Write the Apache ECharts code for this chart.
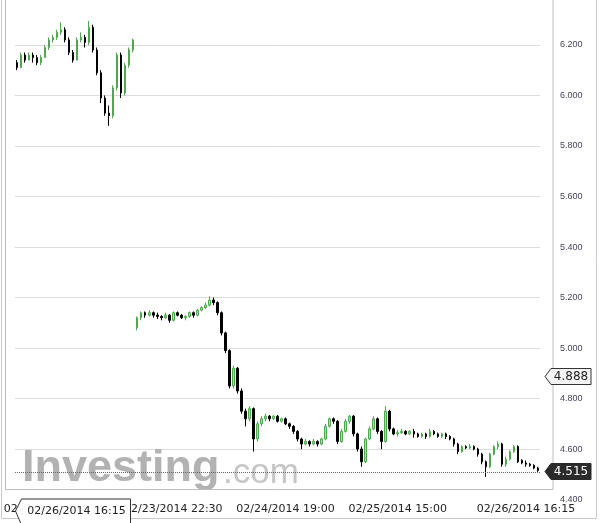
<!DOCTYPE html>
<html><head><meta charset="utf-8">
<script src="https://cdn.jsdelivr.net/npm/echarts@6/dist/echarts.min.js"></script>
<style>html,body{margin:0;padding:0;background:#fff}#c{width:601px;height:523px}</style>
</head><body><div id="c"></div>
<script>
// ---- data ----
const opens = [
  6.13,6.11,6.16,6.14,6.16,6.15,6.13,6.15,6.19,6.22,
  6.23,6.25,6.26,6.22,6.17,6.14,6.22,6.23,6.21,6.27,
  6.18,6.09,5.99,5.93,5.92,6.03,6.16,6.01,6.12,6.18,
  5.08,5.12,5.14,5.13,5.14,5.13,5.125,5.12,5.13,5.11,
  5.14,5.13,5.12,5.125,5.14,5.13,5.15,5.16,5.17,5.19,
  5.18,5.14,5.06,4.99,4.85,4.92,4.83,4.75,4.72,4.76,
  4.64,4.70,4.72,4.73,4.72,4.73,4.71,4.72,4.70,4.69,
  4.67,4.64,4.62,4.63,4.62,4.63,4.62,4.64,4.69,4.72,
  4.71,4.63,4.67,4.71,4.73,4.66,4.60,4.55,4.64,4.68,
  4.72,4.67,4.63,4.75,4.68,4.66,4.665,4.67,4.66,4.67,
  4.66,4.65,4.66,4.65,4.67,4.66,4.65,4.66,4.65,4.64,
  4.62,4.59,4.61,4.605,4.61,4.60,4.58,4.55,4.53,4.58,
  4.61,4.62,4.54,4.56,4.59,4.61,4.555,4.545,4.54,4.535,
  4.525
];
const closes = [
  6.11,6.16,6.14,6.16,6.15,6.13,6.15,6.19,6.22,6.23,
  6.25,6.26,6.22,6.17,6.14,6.22,6.23,6.21,6.27,6.18,
  6.09,5.99,5.93,5.92,6.03,6.16,6.01,6.12,6.18,6.22,
  5.12,5.14,5.13,5.14,5.13,5.125,5.12,5.13,5.11,5.14,
  5.13,5.12,5.125,5.14,5.13,5.15,5.16,5.17,5.19,5.18,
  5.14,5.06,4.99,4.85,4.92,4.83,4.75,4.72,4.76,4.64,
  4.70,4.72,4.73,4.72,4.73,4.71,4.72,4.70,4.69,4.67,
  4.64,4.62,4.63,4.62,4.63,4.62,4.64,4.69,4.72,4.71,
  4.63,4.67,4.71,4.73,4.66,4.60,4.55,4.64,4.68,4.72,
  4.67,4.63,4.75,4.68,4.66,4.665,4.67,4.66,4.67,4.66,
  4.65,4.66,4.65,4.67,4.66,4.65,4.66,4.65,4.64,4.62,
  4.59,4.61,4.605,4.61,4.60,4.58,4.55,4.53,4.58,4.61,
  4.62,4.54,4.56,4.59,4.61,4.55,4.545,4.54,4.535,4.525,
  4.515
];
const lows = [
  6.10,6.11,6.13,6.14,6.13,6.12,6.12,6.15,6.18,6.21,
  6.22,6.24,6.21,6.16,6.13,6.14,6.21,6.19,6.20,6.17,
  6.08,5.97,5.92,5.88,5.91,6.02,5.99,6.00,6.11,6.17,
  5.07,5.11,5.12,5.125,5.12,5.115,5.11,5.115,5.10,5.105,
  5.125,5.115,5.11,5.12,5.12,5.125,5.145,5.155,5.165,5.17,
  5.13,5.05,4.98,4.84,4.84,4.82,4.74,4.69,4.71,4.59,
  4.63,4.69,4.71,4.71,4.715,4.705,4.705,4.695,4.68,4.66,
  4.63,4.60,4.615,4.61,4.615,4.61,4.615,4.635,4.685,4.70,
  4.62,4.625,4.665,4.70,4.65,4.59,4.53,4.545,4.635,4.675,
  4.66,4.60,4.625,4.67,4.655,4.65,4.66,4.655,4.655,4.645,
  4.645,4.645,4.64,4.645,4.655,4.645,4.645,4.64,4.635,4.61,
  4.58,4.585,4.60,4.60,4.595,4.57,4.54,4.49,4.525,4.575,
  4.60,4.53,4.53,4.555,4.585,4.545,4.54,4.53,4.53,4.52,
  4.51
];
const highs = [
  6.14,6.17,6.17,6.17,6.17,6.16,6.16,6.20,6.23,6.24,
  6.26,6.29,6.27,6.23,6.18,6.23,6.25,6.24,6.295,6.28,
  6.19,6.10,6.00,5.96,6.04,6.17,6.17,6.13,6.19,6.225,
  5.125,5.145,5.145,5.15,5.145,5.14,5.13,5.14,5.135,5.145,
  5.145,5.135,5.13,5.145,5.145,5.155,5.165,5.18,5.205,5.20,
  5.185,5.145,5.065,4.995,4.93,4.925,4.84,4.76,4.77,4.765,
  4.71,4.73,4.74,4.735,4.735,4.735,4.725,4.725,4.705,4.695,
  4.675,4.645,4.64,4.635,4.64,4.635,4.645,4.70,4.725,4.725,
  4.715,4.68,4.72,4.735,4.735,4.665,4.61,4.645,4.69,4.73,
  4.725,4.675,4.77,4.755,4.685,4.675,4.68,4.675,4.675,4.68,
  4.665,4.665,4.665,4.68,4.675,4.665,4.665,4.665,4.655,4.645,
  4.625,4.615,4.615,4.62,4.615,4.605,4.585,4.555,4.585,4.615,
  4.63,4.625,4.57,4.595,4.615,4.615,4.56,4.555,4.545,4.54,
  4.53
];
// x tick labels and the candle each one sits under
const tickLabels = ['02/21/2014 14:00', '02/23/2014 22:30', '02/24/2014 19:00', '02/25/2014 15:00', '02/26/2014 16:15'];
const tickIndex = [9, 39, 67, 95, 127];
const crosshairPrice = 4.888;
const crosshairTime = '02/26/2014 16:15';
const lastPrice = closes[closes.length - 1];

// ---- chart ----
const GRID_LEFT = 15, GRID_RIGHT = 61, GRID_TOP = 0, GRID_BOTTOM = 23.4;
const chart = echarts.init(document.getElementById('c'), null, {renderer: 'canvas'});
const categories = closes.map((_, i) => String(i));
const candleData = closes.map((c, i) => [opens[i], c, lows[i], highs[i]]);

chart.setOption({
  animation: false,
  backgroundColor: '#fff',
  grid: {left: GRID_LEFT, right: GRID_RIGHT, top: GRID_TOP, bottom: GRID_BOTTOM, outerBoundsMode: 'none', containLabel: false},
  xAxis: {
    type: 'category', data: categories, boundaryGap: true,
    axisLine: {show: false}, axisTick: {show: false}, splitLine: {show: false},
    axisLabel: {
      interval: (idx) => tickIndex.indexOf(idx) >= 0,
      formatter: (v, idx) => { const k = tickIndex.indexOf(idx); return k >= 0 ? tickLabels[k] : ''; },
      margin: 4, fontFamily: 'DejaVu Sans', fontSize: 11, color: '#222', hideOverlap: false
    }
  },
  yAxis: {
    type: 'value', position: 'right', min: 4.4, max: 6.378, interval: 0.2, scale: true,
    axisLine: {show: false}, axisTick: {show: false},
    splitLine: {show: true, showMinLine: false, showMaxLine: false, lineStyle: {color: '#dcdcdc', width: 1}},
    axisLabel: {margin: 20, showMaxLabel: false, formatter: (v) => v.toFixed(3),
      fontFamily: 'Liberation Sans', fontSize: 9, color: '#445'}
  },
  series: [{
    type: 'candlestick', data: candleData, barMaxWidth: 3,
    itemStyle: {color: '#a6dca6', color0: '#000', borderColor: '#4fa84f', borderColor0: '#000', borderWidth: 1},
    markLine: {
      silent: true, symbol: 'none', animation: false,
      label: {show: false},
      lineStyle: {type: 'dotted', color: '#666', width: 1},
      data: [{yAxis: lastPrice}]
    }
  }]
});

// ---- decorations: frame, watermark, price/time tags ----
const plotRight = 601 - GRID_RIGHT;
const yOf = (v) => Math.round(chart.convertToPixel({yAxisIndex: 0}, v)) + 0.5;
function yTag(v, text, fill, stroke, textColor) {
  const y = yOf(v), tip = plotRight + 5, bx = plotRight + 11, br = plotRight + 51, h = 8;
  return {type: 'group', z: 100, children: [
    {type: 'polygon', z: 100, shape: {points: [[tip, y], [bx, y - h], [br, y - h], [br, y + h], [bx, y + h]]},
      style: {fill: fill, stroke: stroke, lineWidth: 1}},
    {type: 'text', z: 101, x: (bx + br) / 2, y: y, style: {text: text, font: '12px "DejaVu Sans"', fill: textColor, align: 'center', verticalAlign: 'middle'}}
  ]};
}
const xTip = GRID_LEFT + 0.5, tagY = 511;
chart.setOption({
  graphic: [
    {type: 'rect', z: 1, shape: {x: 5.5, y: -2, width: 547.5, height: 491.5}, style: {fill: 'none', stroke: '#bdbdbd', lineWidth: 1}},
    {type: 'rect', z: 1, shape: {x: 1.5, y: -2, width: 595, height: 520.5}, style: {fill: 'none', stroke: '#c8c8c8', lineWidth: 1}},
    {type: 'text', z: 0, x: 22, y: 469, style: {text: 'Investing', font: 'bold 45px "Liberation Sans"', fill: '#b2b2b2', align: 'left', verticalAlign: 'middle'}},
    {type: 'text', z: 0, x: 223, y: 473, style: {text: '.com', font: '35px "Liberation Sans"', fill: '#c6c6c6', align: 'left', verticalAlign: 'middle'}},
    yTag(crosshairPrice, crosshairPrice.toFixed(3), '#f4f4f4', '#333', '#222'),
    yTag(lastPrice, lastPrice.toFixed(3), '#2b2b2b', '#2b2b2b', '#fff'),
    {type: 'group', z: 100, children: [
      {type: 'polygon', z: 100, shape: {points: [[xTip, tagY], [xTip + 6, tagY - 12], [xTip + 115, tagY - 12], [xTip + 115, tagY + 14], [xTip + 6, tagY + 14]]},
        style: {fill: '#fff', stroke: '#333', lineWidth: 1}},
      {type: 'text', z: 101, x: xTip + 61, y: tagY, style: {text: crosshairTime, font: '11px "DejaVu Sans"', fill: '#222', align: 'center', verticalAlign: 'middle'}}
    ]}
  ]
});
</script>
</body></html>
